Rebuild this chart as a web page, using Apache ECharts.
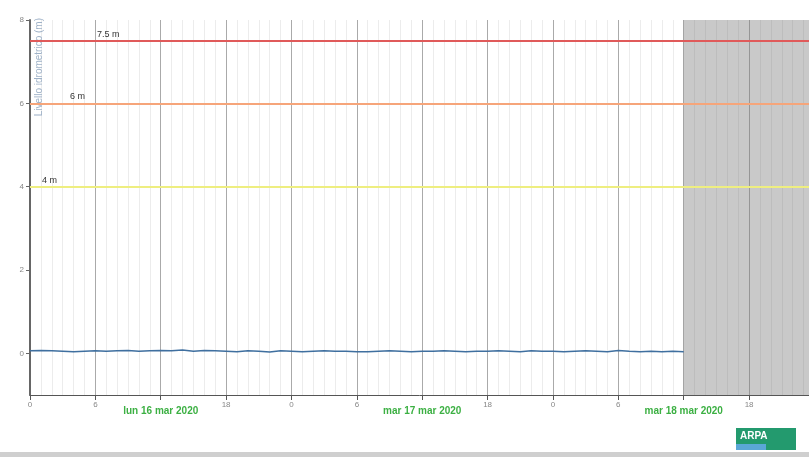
<!DOCTYPE html>
<html>
<head>
<meta charset="utf-8">
<script src="https://cdn.jsdelivr.net/npm/echarts@6/dist/echarts.min.js"></script>
<style>
  html, body { margin: 0; padding: 0; background: #fff; }
  #chart { width: 809px; height: 457px; }
</style>
</head>
<body>
<div id="chart"></div>
<script>
// ore dall'inizio del 16 mar 2020, una lettura ogni ora
const hours = [];
for (let h = 0; h <= 60; h++) hours.push(h);
// livello idrometrico (m)
const level = [
  0.06, 0.07, 0.06, 0.05, 0.04, 0.05, 0.06, 0.05, 0.06, 0.07,
  0.05, 0.06, 0.07, 0.06, 0.08, 0.05, 0.07, 0.06, 0.05, 0.04,
  0.06, 0.05, 0.03, 0.06, 0.05, 0.04, 0.05, 0.06, 0.05, 0.05,
  0.04, 0.04, 0.05, 0.06, 0.05, 0.04, 0.05, 0.05, 0.06, 0.05,
  0.04, 0.05, 0.05, 0.06, 0.05, 0.04, 0.06, 0.05, 0.05, 0.04,
  0.05, 0.06, 0.05, 0.04, 0.07, 0.05, 0.04, 0.05, 0.04, 0.05,
  0.04
];
// soglie
const thresholds = [7.5, 6, 4];
const thresholdNames = ['7.5 m', '6 m', '4 m'];
const thresholdColors = ['#e05a5a', '#f6a57a', '#eeee80'];
const thresholdLabelX = [67, 40, 12];
// giorni
const days = ['lun 16 mar 2020', 'mar 17 mar 2020', 'mar 18 mar 2020'];
// periodo oscurato (previsione)
const greyFrom = 60;
const xMax = 71.5;
const yTicks = [0, 2, 4, 6, 8];

const chart = echarts.init(document.getElementById('chart'));

const option = {
  animation: false,
  grid: { left: 30, right: 0, top: 20, bottom: 62 },
  xAxis: {
    type: 'value',
    min: 0,
    max: xMax,
    interval: 6,
    axisLine: { onZero: false, lineStyle: { color: '#555', width: 1 } },
    axisTick: { length: 5, lineStyle: { color: '#555' } },
    axisLabel: {
      showMaxLabel: false,
      margin: 6,
      formatter: function (v) {
        const h = v % 24;
        if (h === 12) return '{d|' + days[Math.floor(v / 24)] + '}';
        return '{h|' + h + '}';
      },
      rich: {
        h: { fontSize: 8, color: '#888', fontFamily: 'Arial' },
        d: { fontSize: 10, color: '#3cb043', fontWeight: 'bold', fontFamily: 'Arial', padding: [5, 0, 0, 0] }
      }
    },
    splitLine: { show: true, lineStyle: { color: '#aaa', width: 1 } },
    minorTick: { show: false, splitNumber: 6 },
    minorSplitLine: { show: true, lineStyle: { color: '#ececec', width: 1 } }
  },
  yAxis: {
    type: 'value',
    min: -1,
    max: 8,
    name: 'Livello idrometrico (m)',
    nameLocation: 'end',
    nameRotate: 90,
    nameGap: 2,
    nameTextStyle: {
      align: 'right', verticalAlign: 'top', color: '#9fb2c8',
      fontSize: 10, fontFamily: 'Arial', padding: [4, 0, 0, 0]
    },
    axisLine: { show: true, lineStyle: { color: '#666', width: 2 } },
    axisTick: { show: true, length: 4, customValues: yTicks, lineStyle: { color: '#666' } },
    axisLabel: { customValues: yTicks, fontSize: 8, color: '#888', margin: 6, fontFamily: 'Arial' },
    splitLine: { show: false }
  },
  series: [
    {
      type: 'line',
      data: hours.map((h, i) => [h, level[i]]),
      symbol: 'none',
      smooth: false,
      lineStyle: { color: '#3f6f9f', width: 1.5 },
      markLine: {
        symbol: 'none',
        silent: true,
        data: thresholds.map((t, i) => ({
          yAxis: t,
          lineStyle: { color: thresholdColors[i], width: 2, type: 'solid' },
          label: {
            show: true,
            formatter: thresholdNames[i],
            position: 'insideStartTop',
            distance: [thresholdLabelX[i], 2],
            color: '#333',
            fontSize: 9,
            fontFamily: 'Arial'
          }
        }))
      },
      markArea: {
        silent: true,
        itemStyle: { color: 'rgba(120,120,120,0.4)' },
        data: [[{ xAxis: greyFrom }, { xAxis: xMax }]]
      }
    }
  ],
  graphic: [
    { type: 'rect', left: 0, top: 452, shape: { width: 809, height: 5 }, style: { fill: '#cfcfcf' } },
    {
      type: 'group', left: 736, top: 428,
      children: [
        { type: 'rect', shape: { width: 60, height: 22 }, style: { fill: '#239a6e' } },
        { type: 'rect', top: 16, shape: { width: 30, height: 6 }, style: { fill: '#5aa7d6' } },
        { type: 'text', left: 4, top: 3, style: { text: 'ARPA', fill: '#fff', fontSize: 10, fontWeight: 'bold', fontFamily: 'Arial' } }
      ]
    }
  ]
};

chart.setOption(option);
</script>
</body>
</html>
